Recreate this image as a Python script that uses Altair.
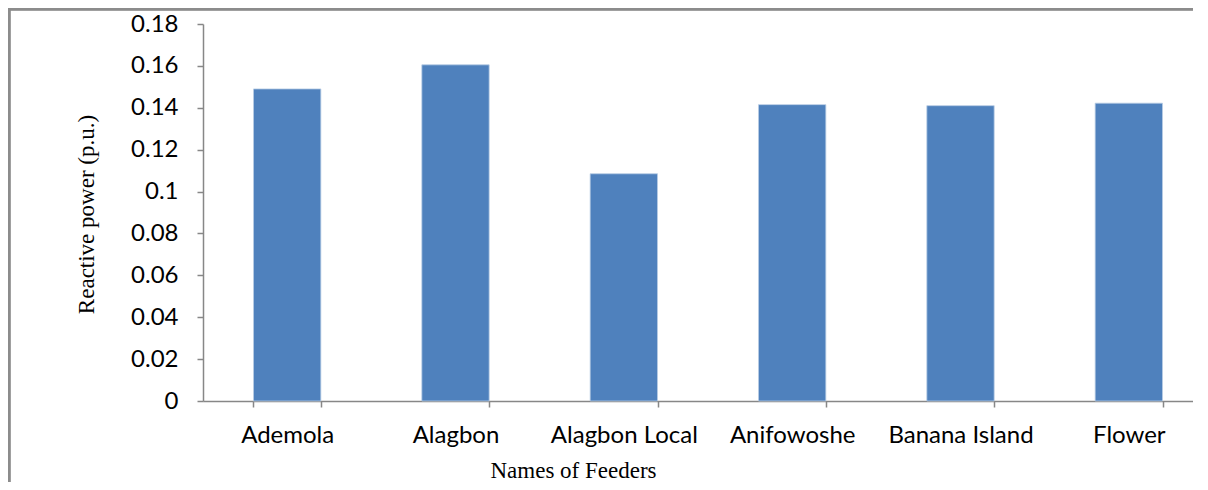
import altair as alt
import pandas as pd

feeders = ["Ademola", "Alagbon", "Alagbon Local", "Anifowoshe", "Banana Island", "Flower"]
reactive_power = [0.149, 0.1605, 0.1085, 0.1415, 0.141, 0.1422]
y_ticks = [0, 0.02, 0.04, 0.06, 0.08, 0.1, 0.12, 0.14, 0.16, 0.18]

df = pd.DataFrame({"feeder": feeders, "q": reactive_power})

W = 990
H = 377
BAND_RANGE = 1010

sans = "Lato"
serif = "Liberation Serif"
axis_grey = "#878787"

bars = alt.Chart(df).mark_bar(
    color="#4F81BD", stroke="#B9CDE5", strokeWidth=0.8
).encode(
    x=alt.X(
        "feeder:N",
        sort=feeders,
        scale=alt.Scale(range=[0, BAND_RANGE], paddingInner=0.6, paddingOuter=0.3),
        axis=alt.Axis(
            title="Names of Feeders",
            titleFont=serif,
            titleFontSize=23,
            titleFontWeight="normal",
            titleColor="black",
            titleX=370,
            titleY=76,
            titleAlign="center",
            titleBaseline="alphabetic",
            labelFont=sans,
            labelFontSize=24,
            labelColor="black",
            labelAngle=0,
            labelPadding=16,
            labelBaseline="top",
            ticks=True,
            tickSize=6,
            tickColor=axis_grey,
            tickBand="extent",
            domainColor=axis_grey,
            domainWidth=1.5,
            tickWidth=1.5,
            grid=False,
        ),
    ),
    y=alt.Y(
        "q:Q",
        scale=alt.Scale(domain=[0, 0.18], nice=False),
        axis=alt.Axis(
            values=y_ticks,
            title="Reactive power (p.u.)",
            titleFont=serif,
            titleFontSize=23,
            titleFontWeight="normal",
            titleColor="black",
            titleAngle=-90,
            titleX=-110,
            titleY=190,
            titleAlign="center",
            titleBaseline="alphabetic",
            labelFont=sans,
            labelFontSize=24,
            labelColor="black",
            labelPadding=19,
            tickSize=6,
            tickColor=axis_grey,
            tickWidth=1.5,
            domainColor=axis_grey,
            domainWidth=1.5,
            grid=False,
            labelExpr="datum.value == 0 ? '0' : format(datum.value, '.2~f')",
        ),
    ),
)

frame_left = alt.Chart(df).mark_rule(color="#8C8C8C", strokeWidth=2.5).encode(
    x=alt.value(-194), y=alt.value(-16), y2=alt.value(470)
)
frame_top = alt.Chart(df).mark_rule(color="#8C8C8C", strokeWidth=2.5).encode(
    x=alt.value(-195), x2=alt.value(BAND_RANGE + 10), y=alt.value(-15)
)

chart = alt.layer(bars, frame_left, frame_top).properties(
    width=W,
    height=H,
    background="white",
    autosize=alt.AutoSizeParams(type="none"),
    padding={"left": 195, "top": 16, "right": 0, "bottom": 81},
).configure_view(strokeWidth=0, strokeOpacity=0)

chart.save("out.html", embed_options={"renderer": "svg", "actions": False})
